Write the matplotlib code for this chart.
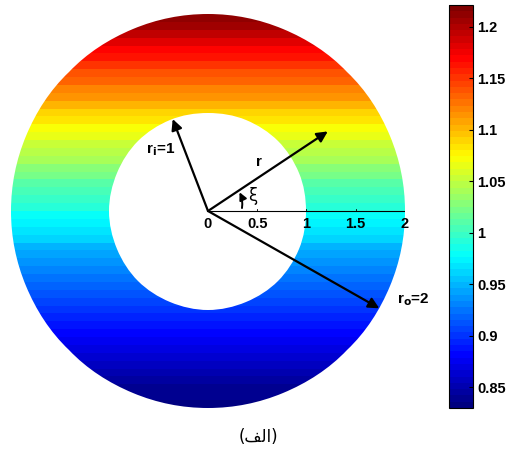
import numpy as np
import matplotlib
matplotlib.use('Agg')
import matplotlib.pyplot as plt
from matplotlib.patches import Wedge
from matplotlib.colors import LinearSegmentedColormap

plt.rcParams.update({
    'font.family': ['Liberation Sans', 'DejaVu Sans'],
    'font.size': 10,
    'font.weight': 'bold',
    'mathtext.default': 'regular',
})

# ---- data ----
R_IN, R_OUT = 1.0, 2.0
BAND_EDGES = np.linspace(-2.0, 2.0, 51)          # 50 horizontal bands
BAND_VALUES = [
    0.8323, 0.8370, 0.8419, 0.8469, 0.8520, 0.8572, 0.8626, 0.8681, 0.8737, 0.8795,
    0.8854, 0.8914, 0.8975, 0.9038, 0.9102, 0.9167, 0.9233, 0.9301, 0.9370, 0.9440,
    0.9512, 0.9585, 0.9659, 0.9734, 0.9811, 0.9889, 0.9968, 1.0049, 1.0131, 1.0214,
    1.0298, 1.0384, 1.0471, 1.0559, 1.0649, 1.0740, 1.0832, 1.0925, 1.1020, 1.1116,
    1.1213, 1.1311, 1.1411, 1.1512, 1.1614, 1.1718, 1.1823, 1.1929, 1.2036, 1.2145,
]
CLIM = (0.830, 1.221)
CB_TICKS = [0.85, 0.9, 0.95, 1.0, 1.05, 1.1, 1.15, 1.2]
CB_LABELS = ['0.85', '0.9', '0.95', '1', '1.05', '1.1', '1.15', '1.2']

AXIS_TICKS = [0, 0.5, 1, 1.5, 2]
AXIS_LABELS = ['0', '0.5', '1', '1.5', '2']

# vectors drawn from the origin: (length, angle in degrees)
VEC_RI = (1.0, 111.0)
VEC_R = (1.46, 33.6)
VEC_RO = (2.0, -29.6)

# MATLAB-style jet
JET_ANCHORS = [
    (0.0, (0, 0, 0.5)), (1 / 8, (0, 0, 1)), (3 / 8, (0, 1, 1)),
    (5 / 8, (1, 1, 0)), (7 / 8, (1, 0, 0)), (1.0, (0.5, 0, 0)),
]


def polar(v):
    L, a = v
    return (L * np.cos(np.radians(a)), L * np.sin(np.radians(a)))


fig = plt.figure(figsize=(5.09, 4.5), dpi=100)
ax = fig.add_axes([11 / 509, 42 / 450, 394 / 509, 394 / 450])
ax.set_xlim(-2, 2)
ax.set_ylim(-2, 2)
ax.set_aspect('equal')
ax.axis('off')

cmap = LinearSegmentedColormap.from_list('mjet', JET_ANCHORS, N=64)
C = np.array(BAND_VALUES)[:, None]
mesh = ax.pcolormesh([-R_OUT, R_OUT], BAND_EDGES, C, cmap=cmap,
                     vmin=CLIM[0], vmax=CLIM[1], shading='flat')
ring = Wedge((0, 0), R_OUT, 0, 360, width=R_OUT - R_IN,
             facecolor='none', edgecolor='none')
ax.add_patch(ring)
mesh.set_clip_path(ring)

# radial axis line with ticks
ax.plot([AXIS_TICKS[0], AXIS_TICKS[-1]], [0, 0], color='k', lw=0.8)
for t, lab in zip(AXIS_TICKS, AXIS_LABELS):
    if t > 0:
        ax.plot([t, t], [0, 0.025], color='k', lw=0.6)
    ax.text(t, -0.06, lab, ha='center', va='top', fontsize=10.5)

arrow_kw = dict(arrowstyle='-|>', color='k', lw=1.6, mutation_scale=16,
                shrinkA=0, shrinkB=0)
for v in (VEC_RI, VEC_R, VEC_RO):
    ax.annotate('', xy=polar(v), xytext=(0, 0), arrowprops=arrow_kw)

# angle arrow for xi
ax.annotate('', xy=(0.32, 0.19), xytext=(0.345, 0.03),
            arrowprops=dict(arrowstyle='-|>', color='k', lw=1.4,
                            mutation_scale=11, shrinkA=0, shrinkB=0,
                            connectionstyle='arc3,rad=0.15'))

ax.text(-0.63, 0.62, r'r$_\mathbf{i}$=1', fontsize=11, ha='left', va='center')
ax.text(0.52, 0.50, 'r', fontsize=11, ha='center', va='center')
ax.text(0.45, 0.15, '\u03be', fontsize=12, fontweight='normal',
        family=['DejaVu Sans'], ha='center', va='center')
ax.text(1.92, -0.90, r'r$_\mathbf{o}$=2', fontsize=11, ha='left', va='center')

# caption (Arabic presentation forms, visual order)
fig.text(258 / 509, 1 - 437 / 450, '(\ufed2\ufedf\ufe8d)', ha='center', va='center',
         fontsize=12, fontweight='normal', family=['DejaVu Sans'])

# colorbar
cax = fig.add_axes([449 / 509, 42 / 450, 24 / 509, 403 / 450])
cb = fig.colorbar(mesh, cax=cax, ticks=CB_TICKS)
cb.ax.set_yticklabels(CB_LABELS)
cb.ax.tick_params(direction='in', length=3, width=0.8, labelsize=10.5, pad=3)
cb.outline.set_linewidth(0.8)

fig.savefig('out.png', dpi=100, facecolor='white')
